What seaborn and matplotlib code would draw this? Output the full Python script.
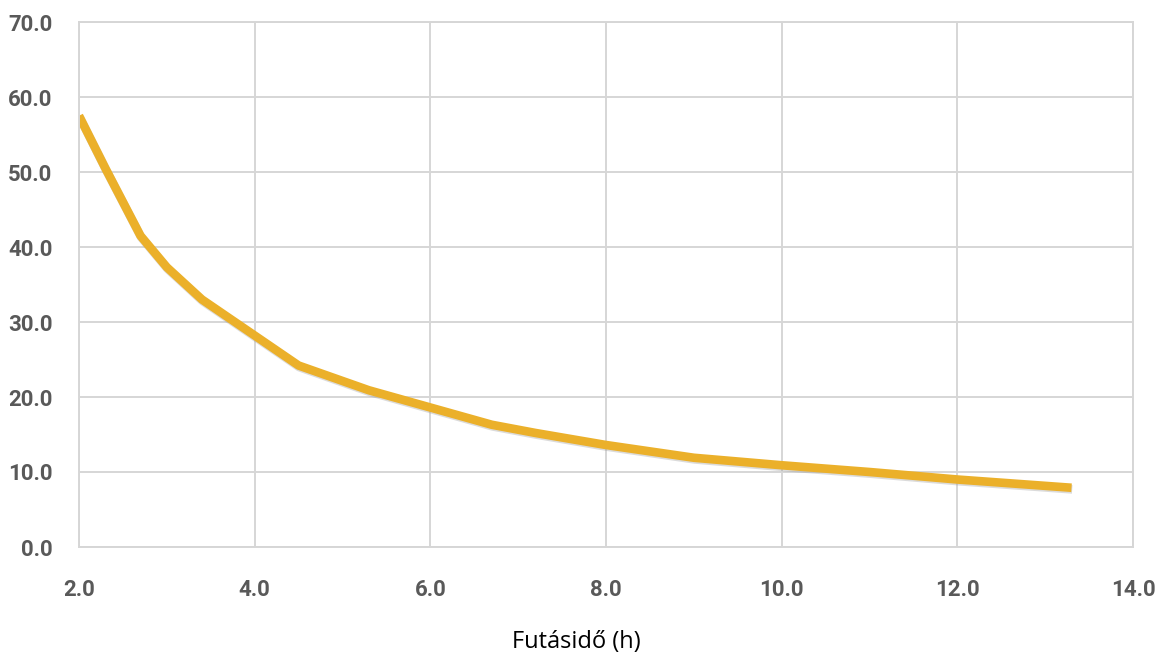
import seaborn as sns
import matplotlib.pyplot as plt
import matplotlib.patheffects as pe
import pandas as pd

# values
runtime_h = [2.0, 2.3, 2.7, 3.0, 3.4, 3.9, 4.5, 5.3, 6.0, 6.7, 7.2, 8.0, 9.0, 10.0, 11.0, 12.0, 13.3]
value = [57.5, 50.5, 41.5, 37.3, 33.0, 29.0, 24.2, 20.9, 18.6, 16.3, 15.2, 13.6, 11.9, 10.9, 10.0, 9.0, 7.9]
x_ticks = [2, 4, 6, 8, 10, 12, 14]
y_ticks = [0, 10, 20, 30, 40, 50, 60, 70]
x_label = "Futásidő (h)"

df = pd.DataFrame({"x": runtime_h, "y": value})

sns.set_style("white")
plt.rcParams["font.family"] = ["Roboto", "DejaVu Sans"]

fig = plt.figure(figsize=(11.63, 6.60), dpi=100)
ax = fig.add_axes([79 / 1163, 113 / 660, 1054 / 1163, 525 / 660])

sns.lineplot(data=df, x="x", y="y", ax=ax, color="#EBB02A", linewidth=6.2,
             solid_capstyle="butt",
             path_effects=[pe.SimpleLineShadow(offset=(0.5, -1.2), shadow_color="#9a9a9a", alpha=0.35),
                           pe.Normal()])

ax.set_xlim(2, 14)
ax.set_ylim(0, 70)
ax.set_xticks(x_ticks)
ax.set_yticks(y_ticks)
ax.set_xticklabels([f"{t:.1f}" for t in x_ticks])
ax.set_yticklabels([f"{t:.1f}" for t in y_ticks])

ax.grid(True, color="#d6d6d6", linewidth=1.4)
ax.set_axisbelow(True)
for s in ax.spines.values():
    s.set_color("#d6d6d6")
    s.set_linewidth(1.4)

ax.tick_params(axis="both", length=0, labelsize=16, labelcolor="#595959")
ax.tick_params(axis="y", pad=19)
ax.tick_params(axis="x", pad=23)
for lbl in ax.get_xticklabels() + ax.get_yticklabels():
    lbl.set_fontweight("bold")

ax.set_ylabel("")
ax.set_xlabel(x_label, fontsize=17, family=["Open Sans", "DejaVu Sans"], color="black")
ax.xaxis.set_label_coords((576 - 79) / 1054, (547 - 642) / 525)
ax.xaxis.label.set_verticalalignment("center")

fig.savefig("out.png", dpi=100)
